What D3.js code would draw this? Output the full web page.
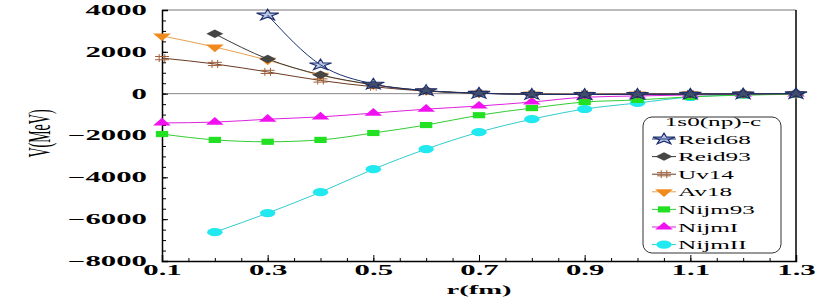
<!DOCTYPE html>
<html>
<head>
<meta charset="utf-8">
<script src="https://cdn.jsdelivr.net/npm/d3@7"></script>
<style>
  body { margin: 0; background: #fff; }
  svg { display: block; }
  svg text { font-family: "Liberation Serif", "DejaVu Serif", serif; }
</style>
</head>
<body>
<div id="chart"></div>
<script>
// r values (fm) and potentials (MeV)
const radii = [0.1, 0.2, 0.3, 0.4, 0.5, 0.6, 0.7, 0.8, 0.9, 1.0, 1.1, 1.2, 1.3];
const reid68 = [null, null, 3760, 1380, 460, 150, 20, -30, -40, -30, -20, -10, 0];
const reid93 = [null, 2860, 1660, 900, 430, 140, 20, -30, -40, -30, -20, -10, 0];
const uv14 = [1700, 1420, 1040, 630, 330, 120, 20, -20, -30, -20, -10, -5, 0];
const av18 = [2760, 2230, 1600, 880, 420, 140, 30, -20, -30, -20, -10, -5, 0];
const nijm93 = [-1930, -2210, -2300, -2210, -1880, -1500, -1030, -690, -400, -300, -150, -70, -30];
const nijmI = [-1400, -1360, -1220, -1110, -930, -740, -590, -400, -170, -110, -60, -30, -10];
const nijmII = [null, -6620, -5710, -4710, -3610, -2650, -1840, -1220, -735, -445, -160, -60, -20];
const seriesNames = ["Reid68", "Reid93", "Uv14", "Av18", "Nijm93", "NijmI", "NijmII"];
const xTicks = [0.1, 0.3, 0.5, 0.7, 0.9, 1.1, 1.3];
const yTicks = [-8000, -6000, -4000, -2000, 0, 2000, 4000];
const legendTitle = "1s0(np)-c";

const width = 830;
const height = 306;
const marginTop = 10;
const marginRight = 34;
const marginBottom = 45;
const marginLeft = 162;
const stretch = 2.2; // the picture is squashed wide, glyphs and markers too

const styles = [
  { stroke: "#1c2f6e", fill: "#3a5cb0", shape: "star" },
  { stroke: "#3a3a3a", fill: "#454545", shape: "diamond" },
  { stroke: "#6b3a22", fill: "#a0603a", shape: "hash" },
  { stroke: "#e8a050", fill: "#f08a1c", shape: "triDown" },
  { stroke: "#33cc33", fill: "#22e022", shape: "square" },
  { stroke: "#dd22dd", fill: "#f010f0", shape: "triangle" },
  { stroke: "#33cccc", fill: "#22e8f0", shape: "circle" }
];

const seriesValues = [reid68, reid93, uv14, av18, nijm93, nijmI, nijmII];
const series = seriesNames.map((name, i) => ({
  name,
  style: styles[i],
  points: radii.map((r, j) => ({ r, v: seriesValues[i][j] })).filter(d => d.v !== null)
}));

const svg = d3.select("#chart")
  .append("svg")
  .attr("width", width)
  .attr("height", height);

const x = d3.scaleLinear()
  .domain([0.1, 1.3])
  .range([marginLeft, width - marginRight]);

const y = d3.scaleLinear()
  .domain([-8000, 4000])
  .range([height - marginBottom, marginTop]);

// frame: grey top, black right
svg.append("line")
  .attr("x1", x(0.1)).attr("x2", x(1.3))
  .attr("y1", y(4000)).attr("y2", y(4000))
  .attr("stroke", "#777");
svg.append("line")
  .attr("x1", x(1.3)).attr("x2", x(1.3))
  .attr("y1", y(4000)).attr("y2", y(-8000))
  .attr("stroke", "#000").attr("stroke-width", 1.5);

// zero line
svg.append("line")
  .attr("x1", x(0.1)).attr("x2", x(1.3))
  .attr("y1", y(0)).attr("y2", y(0))
  .attr("stroke", "#888");

// minor ticks
svg.append("g")
  .attr("transform", `translate(0,${height - marginBottom})`)
  .call(d3.axisBottom(x).tickValues(d3.range(0.1, 1.31, 0.05)).tickSize(-3).tickFormat(""))
  .call(g => g.select(".domain").remove());
svg.append("g")
  .attr("transform", `translate(${marginLeft},0)`)
  .call(d3.axisLeft(y).tickValues(d3.range(-8000, 4001, 500)).tickSize(-4).tickFormat(""))
  .call(g => g.select(".domain").remove());

// x axis
const xAxis = svg.append("g")
  .attr("transform", `translate(0,${height - marginBottom})`)
  .call(d3.axisBottom(x).tickValues(xTicks).tickSize(-6).tickPadding(4).tickFormat(d3.format(".1f")));
xAxis.select(".domain").attr("stroke-width", 1.5);
xAxis.selectAll("text")
  .style("font-family", "Liberation Serif, serif")
  .style("font-size", "14px")
  .style("font-weight", "bold")
  .attr("transform", `scale(${stretch},1)`);

// y axis
const yAxis = svg.append("g")
  .attr("transform", `translate(${marginLeft},0)`)
  .call(d3.axisLeft(y).tickValues(yTicks).tickSize(-6).tickFormat(d3.format("d")));
yAxis.select(".domain").attr("stroke-width", 1.5);
yAxis.selectAll("text")
  .style("font-family", "Liberation Serif, serif")
  .style("font-size", "14px")
  .style("font-weight", "bold")
  .attr("x", -15 / stretch)
  .attr("transform", `scale(${stretch},1)`);

// axis titles
svg.append("text")
  .attr("transform", `translate(${(x(0.1) + x(1.3)) / 2},294) scale(${stretch},1)`)
  .attr("text-anchor", "middle")
  .style("font-size", "13px")
  .style("font-weight", "bold")
  .text("r(fm)");

svg.append("text")
  .attr("transform", `translate(50,${(y(4000) + y(-8000)) / 2 - 2}) rotate(-90) scale(1,${stretch})`)
  .attr("text-anchor", "middle")
  .style("font-size", "14px")
  .text("V(MeV)");

// marker shapes, drawn narrow then stretched like the rest of the picture
function markerPath(shape) {
  if (shape === "hash") {
    return "M-3.5,-1.6H3.5M-3.5,1.6H3.5M-1.4,-4V4M1.4,-4V4";
  }
  const types = {
    star: [d3.symbolStar, 38],
    diamond: [d3.symbolSquare, 36],
    triangle: [d3.symbolTriangle, 34],
    triDown: [d3.symbolTriangle, 34],
    square: [d3.symbolSquare, 38],
    circle: [d3.symbolCircle, 52]
  };
  const [type, size] = types[shape];
  return d3.symbol(type, size)();
}

function drawMarker(sel, st) {
  const p = sel.append("path").attr("d", markerPath(st.shape));
  let rot = 0;
  if (st.shape === "triDown") rot = 180;
  if (st.shape === "diamond") rot = 45;
  const sx = st.shape === "circle" ? 1.9 : 2;
  p.attr("transform", `scale(${sx},1) rotate(${rot})`);
  if (st.shape === "hash") {
    p.attr("fill", "none").attr("stroke", st.fill).attr("stroke-width", 1)
      .attr("vector-effect", "non-scaling-stroke");
  } else if (st.shape === "star") {
    p.attr("fill", st.fill).attr("fill-opacity", 0.35).attr("stroke", st.stroke)
      .attr("stroke-width", 1.2).attr("vector-effect", "non-scaling-stroke");
  } else {
    p.attr("fill", st.fill).attr("stroke", "none");
  }
  return p;
}

const line = d3.line()
  .x(d => x(d.r))
  .y(d => y(d.v))
  .curve(d3.curveMonotoneX);

// draw from last to first so Reid68 ends on top
series.slice().reverse().forEach(s => {
  svg.append("path")
    .datum(s.points)
    .attr("fill", "none")
    .attr("stroke", s.style.stroke)
    .attr("stroke-width", 1)
    .attr("d", line);
});
series.slice().reverse().forEach(s => {
  svg.append("g")
    .selectAll("g")
    .data(s.points)
    .join("g")
    .attr("transform", d => `translate(${x(d.r)},${y(d.v)})`)
    .each(function() { drawMarker(d3.select(this), s.style); });
});

// legend
const legend = svg.append("g").attr("transform", "translate(643,117)");
legend.append("rect")
  .attr("width", 138)
  .attr("height", 136)
  .attr("rx", 9)
  .attr("fill", "#fff")
  .attr("stroke", "#333");
legend.append("text")
  .attr("transform", `translate(70,9) scale(2.1,1)`)
  .attr("text-anchor", "middle")
  .style("font-size", "12px")
  .text(legendTitle);
const rows = legend.selectAll("g.row")
  .data(series)
  .join("g")
  .attr("class", "row")
  .attr("transform", (d, i) => `translate(0,${22 + i * 17.6})`);
rows.append("line")
  .attr("x1", 9).attr("x2", 33)
  .attr("stroke", d => d.style.stroke);
rows.append("g")
  .attr("transform", "translate(21,0)")
  .each(function(d) { drawMarker(d3.select(this), d.style); });
rows.append("text")
  .attr("transform", `translate(35,4.5) scale(2.1,1)`)
  .style("font-size", "12px")
  .text(d => d.name);
</script>
</body>
</html>
